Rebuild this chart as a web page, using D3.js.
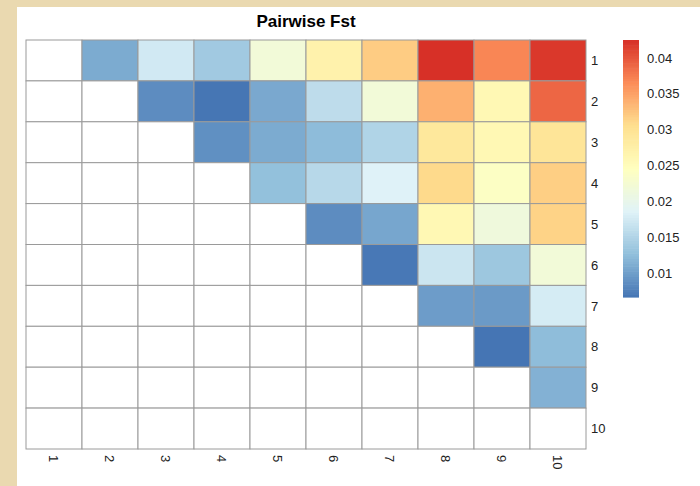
<!DOCTYPE html>
<html>
<head>
<meta charset="utf-8">
<script src="https://cdn.jsdelivr.net/npm/d3@7"></script>
<style>
  html, body { margin: 0; padding: 0; background: #EAD9B0; }
  svg { display: block; }
  text { font-family: "Liberation Sans", Arial, Helvetica, sans-serif; }
</style>
</head>
<body>
<svg id="chart" width="700" height="486"></svg>
<script>
// ---- data ----
const rowLabels = ["1","2","3","4","5","6","7","8","9","10"];
const colLabels = ["1","2","3","4","5","6","7","8","9","10"];
// upper triangle pairwise Fst (null = empty cell)
const row1  = [null, 0.0110, 0.0175, 0.0138, 0.0220, 0.0270, 0.0320, 0.0425, 0.0370, 0.0420];
const row2  = [null, null, 0.0085, 0.0067, 0.0108, 0.0160, 0.0220, 0.0340, 0.0260, 0.0390];
const row3  = [null, null, null, 0.0088, 0.0110, 0.0124, 0.0150, 0.0290, 0.0260, 0.0295];
const row4  = [null, null, null, null, 0.0128, 0.0155, 0.0185, 0.0310, 0.0240, 0.0318];
const row5  = [null, null, null, null, null, 0.0085, 0.0106, 0.0260, 0.0215, 0.0315];
const row6  = [null, null, null, null, null, null, 0.0069, 0.0170, 0.0135, 0.0220];
const row7  = [null, null, null, null, null, null, null, 0.0098, 0.0096, 0.0178];
const row8  = [null, null, null, null, null, null, null, null, 0.00665, 0.0125];
const row9  = [null, null, null, null, null, null, null, null, null, 0.0115];
const row10 = [null, null, null, null, null, null, null, null, null, null];
const fstRows = [row1,row2,row3,row4,row5,row6,row7,row8,row9,row10];
const legendTicks = [0.01, 0.015, 0.02, 0.025, 0.03, 0.035, 0.04];
const palette = ["#4575B4","#91BFDB","#E0F3F8","#FFFFBF","#FEE090","#FC8D59","#D73027"];
const valueMin = 0.00665, valueMax = 0.0425;

// ---- layout ----
const svg = d3.select("#chart");
svg.append("rect").attr("x", 17).attr("y", 7).attr("width", 683).attr("height", 479).attr("fill", "#ffffff");

const gridLeft = 26, gridRight = 586, gridTop = 40, gridBottom = 449;
const x = d3.scaleBand().domain(colLabels).range([gridLeft, gridRight]);
const y = d3.scaleBand().domain(rowLabels).range([gridTop, gridBottom]);

const colorDomain = d3.range(palette.length).map(i => valueMin + i * (valueMax - valueMin) / (palette.length - 1));
const color = d3.scaleLinear().domain(colorDomain).range(palette).interpolate(d3.interpolateRgb).clamp(true);

const cells = [];
fstRows.forEach((r, i) => r.forEach((v, j) => cells.push({row: rowLabels[i], col: colLabels[j], v})));

svg.append("g").selectAll("rect").data(cells).join("rect")
  .attr("x", d => x(d.col)).attr("y", d => y(d.row))
  .attr("width", x.bandwidth()).attr("height", y.bandwidth())
  .attr("fill", d => d.v == null ? "#ffffff" : color(d.v))
  .attr("stroke", "#9a9a9a").attr("stroke-width", 1);

// title
svg.append("text").attr("x", (gridLeft + gridRight) / 2).attr("y", 27)
  .attr("text-anchor", "middle").attr("font-weight", "bold").attr("font-size", 17)
  .attr("fill", "#000").text("Pairwise Fst");

// row labels
svg.append("g").selectAll("text").data(rowLabels).join("text")
  .attr("x", gridRight + 5).attr("y", d => y(d) + y.bandwidth() / 2)
  .attr("dy", "0.36em").attr("font-size", 13).attr("fill", "#222").text(d => d);

// column labels (rotated)
svg.append("g").selectAll("text").data(colLabels).join("text")
  .attr("transform", d => `translate(${x(d) + x.bandwidth() / 2},${gridBottom + 6}) rotate(90)`)
  .attr("dy", "0.36em").attr("text-anchor", "start").attr("font-size", 13).attr("fill", "#222").text(d => d);

// legend
const legTop = 40, legBottom = 297, legX = 623, legW = 16;
const ly = d3.scaleLinear().domain([valueMin, valueMax]).range([legBottom, legTop]);
const steps = d3.range(100).map(i => valueMin + (i + 0.5) * (valueMax - valueMin) / 100);
const stepH = (legBottom - legTop) / 100;
svg.append("g").selectAll("rect").data(steps).join("rect")
  .attr("x", legX).attr("width", legW)
  .attr("y", d => ly(d) - stepH / 2).attr("height", stepH + 0.6)
  .attr("fill", d => color(d));
svg.append("g").selectAll("text").data(legendTicks).join("text")
  .attr("x", legX + legW + 8).attr("y", d => ly(d))
  .attr("dy", "0.36em").attr("font-size", 13).attr("fill", "#222").text(d => d);
</script>
</body>
</html>
